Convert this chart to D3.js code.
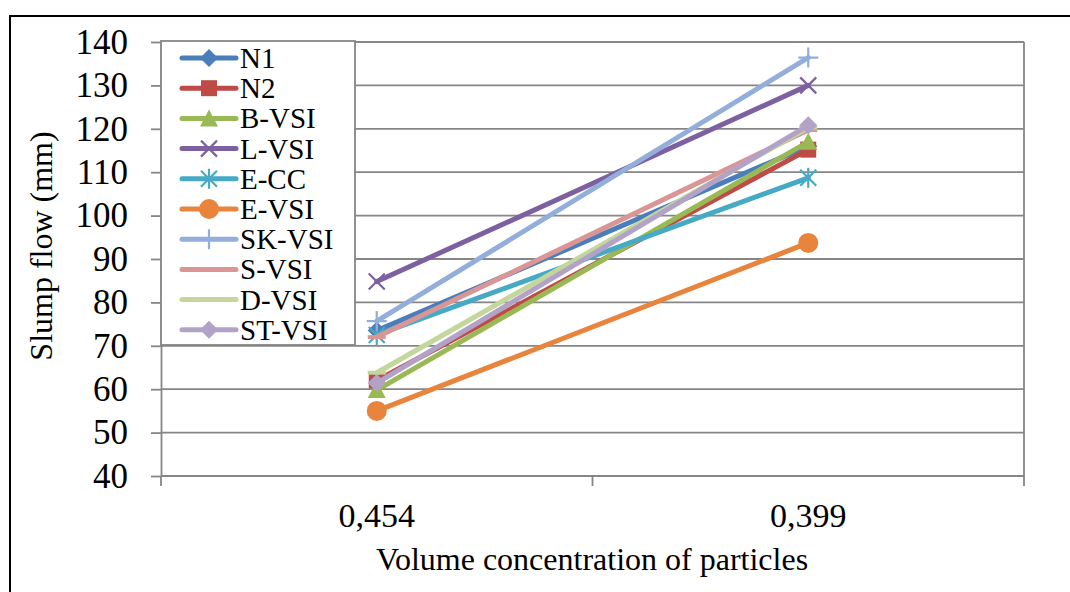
<!DOCTYPE html>
<html lang="en">
<head>
  <meta charset="UTF-8" />
  <title>Slump flow</title>
  <script src="https://d3js.org/d3.v7.min.js"></script>
  <style>
    body { margin: 0; background: #fff; }
    text { font-family: "Liberation Serif", "Times New Roman", serif; fill: #000; }
  </style>
</head>
<body>
<script type="text/javascript">

// data
var categories = ["0,454", "0,399"];
var seriesNames = ["N1", "N2", "B-VSI", "L-VSI", "E-CC", "E-VSI", "SK-VSI", "S-VSI", "D-VSI", "ST-VSI"];
var n1    = [73.5, 116];
var n2    = [62, 115.2];
var bvsi  = [59.8, 117];
var lvsi  = [84.8, 130];
var ecc   = [72.5, 108.7];
var evsi  = [55, 93.7];
var skvsi = [75.7, 136.4];
var svsi  = [72, 119.7];
var dvsi  = [63.8, 120.3];
var stvsi = [61.4, 120.8];
var yTicks = [40, 50, 60, 70, 80, 90, 100, 110, 120, 130, 140];

var values = [n1, n2, bvsi, lvsi, ecc, evsi, skvsi, svsi, dvsi, stvsi];
var lineColors = ["#4A7EBB", "#BE4B48", "#98B954", "#7D60A0", "#46AAC5", "#E8843C", "#93AEDA", "#D99694", "#C3D69B", "#B3A2C7"];
var markers = ["diamond", "square", "triangle", "x", "star", "circle", "plus", "dash", "dash", "diamond"];

var W = 1070, H = 592;
var plotLeft = 161, plotRight = 1024, plotTop = 42, plotBottom = 476;

var svg = d3.select("body").append("svg").attr("width", W).attr("height", H);

// outer frame
svg.append("rect").attr("x", 10).attr("y", 16).attr("width", 1090).attr("height", 620)
  .attr("fill", "none").attr("stroke", "#000").attr("stroke-width", 2);

var x = d3.scaleBand().domain(categories).range([plotLeft, plotRight]).paddingInner(0).paddingOuter(0);
var y = d3.scaleLinear().domain([40, 140]).range([plotBottom, plotTop]);

var gridColor = "#868686";

// gridlines
svg.append("g").selectAll("line").data(yTicks.slice(1)).enter().append("line")
  .attr("x1", plotLeft).attr("x2", plotRight)
  .attr("y1", function(d) { return y(d); }).attr("y2", function(d) { return y(d); })
  .attr("stroke", gridColor).attr("stroke-width", 1.8);

// right border of plot
svg.append("line").attr("x1", plotRight).attr("x2", plotRight).attr("y1", plotTop).attr("y2", plotBottom)
  .attr("stroke", gridColor).attr("stroke-width", 1.8);

// y axis
var yAxis = svg.append("g").attr("transform", "translate(" + plotLeft + ",0)")
  .call(d3.axisLeft(y).tickValues(yTicks).tickSize(10).tickSizeOuter(0).tickPadding(23));
yAxis.select(".domain").attr("stroke", gridColor).attr("stroke-width", 1.8);
yAxis.selectAll(".tick line").attr("stroke", gridColor).attr("stroke-width", 1.8);
yAxis.selectAll(".tick text").style("font-family", "Liberation Serif").attr("font-size", 35).attr("fill", "#000");

// x axis: line plus ticks between categories
var edges = categories.map(function(c) { return x(c); }).concat([x(categories[categories.length - 1]) + x.bandwidth()]);
svg.append("line").attr("x1", plotLeft).attr("x2", plotRight).attr("y1", plotBottom).attr("y2", plotBottom)
  .attr("stroke", gridColor).attr("stroke-width", 1.8);
svg.append("g").selectAll("line").data(edges).enter().append("line")
  .attr("x1", function(d) { return d; }).attr("x2", function(d) { return d; })
  .attr("y1", plotBottom).attr("y2", plotBottom + 10)
  .attr("stroke", gridColor).attr("stroke-width", 1.8);
svg.append("g").selectAll("text").data(categories).enter().append("text")
  .attr("x", function(d) { return x(d) + x.bandwidth() / 2; })
  .attr("y", 527).attr("text-anchor", "middle").attr("font-size", 34)
  .text(function(d) { return d; });

// axis titles
svg.append("text").attr("x", 592).attr("y", 570).attr("text-anchor", "middle").attr("font-size", 32)
  .text("Volume concentration of particles");
svg.append("text").attr("transform", "translate(52,246) rotate(-90)").attr("text-anchor", "middle").attr("font-size", 32)
  .text("Slump flow (mm)");

function drawMarker(g, type, color, cx, cy) {
  var s = 9;
  if (type == "diamond") {
    g.append("path").attr("d", "M" + cx + "," + (cy - s) + "L" + (cx + s) + "," + cy + "L" + cx + "," + (cy + s) + "L" + (cx - s) + "," + cy + "Z").attr("fill", color);
  } else if (type == "square") {
    g.append("rect").attr("x", cx - 8).attr("y", cy - 8).attr("width", 16).attr("height", 16).attr("fill", color);
  } else if (type == "triangle") {
    g.append("path").attr("d", "M" + cx + "," + (cy - 9) + "L" + (cx + 9) + "," + (cy + 8) + "L" + (cx - 9) + "," + (cy + 8) + "Z").attr("fill", color);
  } else if (type == "circle") {
    g.append("circle").attr("cx", cx).attr("cy", cy).attr("r", 10).attr("fill", color);
  } else if (type == "x" || type == "star") {
    g.append("path").attr("d", "M" + (cx - 8) + "," + (cy - 8) + "L" + (cx + 8) + "," + (cy + 8) + "M" + (cx - 8) + "," + (cy + 8) + "L" + (cx + 8) + "," + (cy - 8))
      .attr("stroke", color).attr("stroke-width", 2.2).attr("fill", "none");
    if (type == "star") {
      g.append("path").attr("d", "M" + cx + "," + (cy - 10) + "L" + cx + "," + (cy + 10))
        .attr("stroke", color).attr("stroke-width", 2.2);
    }
  } else if (type == "plus") {
    g.append("path").attr("d", "M" + cx + "," + (cy - 10) + "L" + cx + "," + (cy + 10) + "M" + (cx - 10) + "," + cy + "L" + (cx + 10) + "," + cy)
      .attr("stroke", color).attr("stroke-width", 2.2);
  } else if (type == "dash") {
    g.append("path").attr("d", "M" + (cx - 9) + "," + cy + "L" + (cx + 9) + "," + cy)
      .attr("stroke", color).attr("stroke-width", 4);
  }
}

var line = d3.line()
  .x(function(d, i) { return x(categories[i]) + x.bandwidth() / 2; })
  .y(function(d) { return y(d); });

// series
values.forEach(function(vals, k) {
  var g = svg.append("g");
  g.append("path").datum(vals).attr("d", line).attr("fill", "none")
    .attr("stroke", lineColors[k]).attr("stroke-width", 5).attr("stroke-linecap", "round");
  vals.forEach(function(v, i) {
    drawMarker(g, markers[k], lineColors[k], x(categories[i]) + x.bandwidth() / 2, y(v));
  });
});

// legend
var lg = svg.append("g");
lg.append("rect").attr("x", plotLeft).attr("y", 41).attr("width", 194).attr("height", 304)
  .attr("fill", "#fff").attr("stroke", gridColor).attr("stroke-width", 1.8);
seriesNames.forEach(function(name, k) {
  var cy = 58 + k * 30.2;
  lg.append("line").attr("x1", 182).attr("x2", 236).attr("y1", cy).attr("y2", cy)
    .attr("stroke", lineColors[k]).attr("stroke-width", 5).attr("stroke-linecap", "round");
  drawMarker(lg, markers[k], lineColors[k], 209, cy);
  lg.append("text").attr("x", 240).attr("y", cy + 10).attr("font-size", 29).text(name);
});

</script>
</body>
</html>
